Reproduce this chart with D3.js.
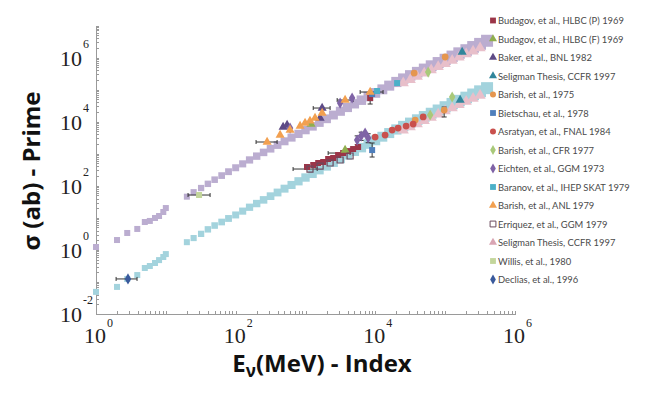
<!DOCTYPE html>
<meta charset="utf-8">
<style>
  body { margin: 0; background: #fff; }
  .axis path, .axis line { stroke: #9a9a9a; shape-rendering: crispEdges; }
  .ticklbl { font-family: "Liberation Serif", "Times New Roman", serif; fill: #222; }
  .title { font-family: "Open Sans", sans-serif; font-weight: bold; fill: #111; }
  .legend text { font-family: Lato, "Noto Sans", sans-serif; font-size: 9.4px; fill: #4a4a4a; }
  .ebar { stroke: #333; stroke-width: 1; fill: none; }
</style>
<body>
<svg id="chart"></svg>
<script src="https://cdn.jsdelivr.net/npm/d3@7"></script>
<script>
// band energies (MeV), E >= 20
var bandE = [20, 25, 32, 40, 50, 63, 79, 100, 126, 158, 200, 251, 316, 398, 501, 631, 794,
  1000, 1260, 1580, 2000, 2510, 3160, 3980, 5010, 6310, 7940, 1e4, 12600, 15800, 20000,
  25100, 31600, 39800, 50100, 63100, 79400, 1e5, 126000, 158000, 200000, 251000, 316000,
  398000];
var upperSigma = [45.7, 63.1, 85.1, 115, 155, 208, 275, 365, 483, 640, 841, 1100, 1430, 1870,
  2440, 3190, 4160, 5460, 7140, 9380, 12300, 16100, 21100, 27700, 36100, 46800, 60800, 78900,
  102000, 133000, 173000, 221000, 278000, 350000, 441000, 555000, 698000, 879000, 1100000,
  1380000, 1720000, 2150000, 2680000, 3340000];
var lowerSigma = [1.74, 2.34, 3.16, 4.37, 5.75, 7.41, 9.55, 12.3, 16.2, 21.4, 27.9, 36.3, 47.4,
  61.7, 81.3, 106, 138, 181, 237, 309, 407, 533, 700, 916, 1190, 1550, 2010, 2610, 3390, 4410,
  5710, 7310, 9200, 11600, 14600, 18400, 23100, 29100, 36600, 45600, 56900, 71100, 88700, 111000];

// low energy part of the bands
var lowE = [1, 2, 2.8, 3.9, 5, 5.9, 7, 8, 9.2, 10];
var upperLowSigma = [1.23, 2.03, 3.37, 4.5, 7.4, 8.0, 9.9, 11.4, 15.2, 20.2];
var lowerLowSigma = [0.049, 0.070, 0.124, 0.164, 0.272, 0.314, 0.39, 0.48, 0.60, 0.74];

// Seligman (pink) points along the bands
var pinkE = [25100, 31600, 39800, 50100, 63100, 79400, 1e5, 126000, 158000, 200000, 251000, 316000];
var pinkUpper = [162000, 204000, 257000, 324000, 407000, 513000, 646000, 813000, 1020000, 1290000, 1580000, 2000000];
var pinkLower = [5370, 6760, 8510, 10700, 13500, 17000, 21400, 26900, 33900, 42700, 52500, 66100];

// experiments: [E, sigma, Emin, Emax, sigmaMin, sigmaMax]
var budagovP = [[1050, 385], [1290, 444], [1520, 513], [1790, 551], [2110, 684], [2490, 735],
  [2930, 910], [3460, 1050, 2110, 4350], [4070, 1210], [4810, 1400], [5670, 1620],
  [8430, 54600, null, null, 35500, 78200]];
var budagovF = [[1200, 8430], [3690, 1300]];
var baker = [[478, 6810], [545, 7850], [1620, 13000], [1730, 26600, 1290, 2250]];
var seligmanTeal = [[175000, 1490000], [164000, 47300]];
var barish1975 = [[36000, 329000], [100000, 1040000], [37200, 11200], [96800, 23000, null, null, 14000, 28600]];
var bietschau = [[9000, 72800], [9000, 1300, null, null, 789, 2160]];
var asratyan = [[9930, 3320], [13800, 3830], [17400, 5480], [21200, 6320], [27600, 7310], [34800, 8430], [48400, 14000]];
var barishCFR = [[57100, 353000], [61000, 16100], [126000, 58700]];
var eichten = [[5490, 2670, null, null, 1900, 3600], [6270, 3560, null, null, 2600, 4700], [7140, 4430],
  [7890, 3090, null, null, 2200, 4200], [3130, 38100], [4650, 54600], [601, 6320]];
var baranov = [[10600, 90400], [20500, 160000]];
var barishANL = [[282, 2320, 196, 392], [433, 3830], [601, 5480], [837, 7310], [986, 9070], [1160, 10500],
  [1370, 13000], [1730, 18600], [3690, 47300, 2840, 4810], [8430, 84100, 6060, 12900]];
var erriquez = [[1160, 333, 664, 1470], [1620, 413], [2250, 513], [3130, 637], [4350, 848]];
var willis = [[29.9, 51.5, 20.8, 43]];
var declias = [[2.87, 0.124, 1.94, 3.87]];

var legendNames = ["Budagov, et al., HLBC (P) 1969", "Budagov, et al., HLBC (F) 1969",
  "Baker, et al., BNL 1982", "Seligman Thesis, CCFR 1997", "Barish, et al., 1975",
  "Bietschau, et al., 1978", "Asratyan, et al., FNAL 1984", "Barish, et al., CFR 1977",
  "Eichten, et al., GGM 1973", "Baranov, et al., IHEP SKAT 1979", "Barish, et al., ANL 1979",
  "Erriquez, et al., GGM 1979", "Seligman Thesis, CCFR 1997", "Willis, et al., 1980",
  "Declias, et al., 1996"];

var xExponents = [0, 2, 4, 6];
var yExponents = [-2, 0, 2, 4, 6];

var width = 654, height = 394;
var svg = d3.select("#chart").attr("width", width).attr("height", height);

var x = d3.scaleLog().domain([1, 1e6]).range([96, 515]);
var y = d3.scaleLog().domain([1e-2, 1e7]).range([314, 25.5]);
var bandSize = d3.scaleLog().domain([20, 4e5]).range([6, 12]);

// axes with inward log ticks
svg.append("g").attr("class", "axis")
  .attr("transform", "translate(0,314)")
  .call(d3.axisBottom(x).tickValues(x.ticks()).tickSize(-3).tickSizeOuter(0).tickFormat(""));
svg.append("g").attr("class", "axis")
  .attr("transform", "translate(96,0)")
  .call(d3.axisLeft(y).tickValues(y.ticks()).tickSize(-3).tickSizeOuter(0).tickFormat(""));

var xl = svg.append("g").selectAll("g").data(xExponents).join("g")
  .attr("transform", function (p) { return "translate(" + x(Math.pow(10, p)) + ",0)"; });
xl.append("text").attr("class", "ticklbl").attr("x", -1).attr("y", 343)
  .attr("text-anchor", "middle").style("font-size", "22px").text("10");
xl.append("text").attr("class", "ticklbl").attr("x", 11).attr("y", 327)
  .style("font-size", "12px").text(function (p) { return String(p); });

var yl = svg.append("g").selectAll("g").data(yExponents).join("g")
  .attr("transform", function (p) { return "translate(0," + y(Math.pow(10, p)) + ")"; });
yl.append("text").attr("class", "ticklbl").attr("x", 82).attr("y", 8)
  .attr("text-anchor", "end").style("font-size", "22px").text("10");
yl.append("text").attr("class", "ticklbl").attr("x", 83).attr("y", -10)
  .style("font-size", "12px").text(function (p) { return String(p); });

// titles
svg.append("text").attr("class", "title")
  .attr("transform", "translate(40,171) rotate(-90)")
  .attr("text-anchor", "middle").style("font-size", "24px").text("σ (ab) - Prime");
var xt = svg.append("text").attr("class", "title").attr("x", 322).attr("y", 372)
  .attr("text-anchor", "middle").style("font-size", "24px");
xt.append("tspan").text("E");
xt.append("tspan").attr("dy", 5).style("font-size", "17px").text("ν");
xt.append("tspan").attr("dy", -5).text("(MeV) - Index");

var plot = svg.append("g");

function squares(es, ss, color, sizeFn) {
  plot.append("g").selectAll("rect")
    .data(ss.map(function (s, i) { return [es[i], s]; }))
    .join("rect")
    .attr("x", function (d) { return x(d[0]) - sizeFn(d[0]) / 2; })
    .attr("y", function (d) { return y(d[1]) - sizeFn(d[0]) / 2; })
    .attr("width", function (d) { return sizeFn(d[0]); })
    .attr("height", function (d) { return sizeFn(d[0]); })
    .attr("fill", color);
}

squares(lowE, upperLowSigma, "#bbadd0", function () { return 6; });
squares(lowE, lowerLowSigma, "#a3d3dd", function () { return 6; });
squares(bandE, upperSigma, "#bbadd0", bandSize);
squares(bandE, lowerSigma, "#a3d3dd", bandSize);

var tri = d3.symbol().type(d3.symbolTriangle).size(55);
function pinkBand(vals) {
  plot.append("g").selectAll("path")
    .data(vals.map(function (s, i) { return [pinkE[i], s]; }))
    .join("path")
    .attr("d", tri)
    .attr("transform", function (d) { return "translate(" + x(d[0]) + "," + y(d[1]) + ")"; })
    .attr("fill", "#e8bfca");
}
pinkBand(pinkUpper);
pinkBand(pinkLower);

// experimental series
var series = [
  { data: budagovP, sym: d3.symbolSquare, color: "#9b3548" },
  { data: budagovF, sym: d3.symbolTriangle, color: "#8fae4e" },
  { data: baker, sym: d3.symbolTriangle, color: "#5d4a86" },
  { data: seligmanTeal, sym: d3.symbolTriangle, color: "#31869b" },
  { data: barish1975, sym: d3.symbolCircle, color: "#e5964f" },
  { data: bietschau, sym: d3.symbolSquare, color: "#4f7fbc" },
  { data: asratyan, sym: d3.symbolCircle, color: "#c9504d" },
  { data: barishCFR, sym: d3.symbolDiamond, color: "#a9c97a" },
  { data: eichten, sym: d3.symbolDiamond, color: "#7f63a6" },
  { data: baranov, sym: d3.symbolSquare, color: "#4bb0c8" },
  { data: barishANL, sym: d3.symbolTriangle, color: "#f2a050" },
  { data: erriquez, sym: d3.symbolSquare, color: "none", stroke: "#6b4a5e" },
  { data: [], sym: d3.symbolTriangle, color: "#d9a5b3" },
  { data: willis, sym: d3.symbolSquare, color: "#c3d69b" },
  { data: declias, sym: d3.symbolDiamond, color: "#3a5a9c" }
];

var bars = plot.append("g");
series.forEach(function (s) {
  s.data.forEach(function (d) {
    var px = x(d[0]), py = y(d[1]);
    if (d[2] != null) {
      bars.append("line").attr("class", "ebar").attr("x1", x(d[2])).attr("x2", x(d[3])).attr("y1", py).attr("y2", py);
      bars.append("line").attr("class", "ebar").attr("x1", x(d[2])).attr("x2", x(d[2])).attr("y1", py - 2).attr("y2", py + 2);
      bars.append("line").attr("class", "ebar").attr("x1", x(d[3])).attr("x2", x(d[3])).attr("y1", py - 2).attr("y2", py + 2);
    }
    if (d[4] != null) {
      bars.append("line").attr("class", "ebar").attr("x1", px).attr("x2", px).attr("y1", y(d[4])).attr("y2", y(d[5]));
      bars.append("line").attr("class", "ebar").attr("x1", px - 2.5).attr("x2", px + 2.5).attr("y1", y(d[4])).attr("y2", y(d[4]));
      bars.append("line").attr("class", "ebar").attr("x1", px - 2.5).attr("x2", px + 2.5).attr("y1", y(d[5])).attr("y2", y(d[5]));
    }
  });
});

series.forEach(function (s) {
  plot.append("g").selectAll("path")
    .data(s.data)
    .join("path")
    .attr("d", d3.symbol().type(s.sym).size(36))
    .attr("transform", function (d) { return "translate(" + x(d[0]) + "," + y(d[1]) + ")"; })
    .attr("fill", s.color)
    .attr("stroke", s.stroke || "none")
    .attr("stroke-width", 1.2);
});

// legend
var legend = svg.append("g").attr("class", "legend");
legendNames.forEach(function (name, i) {
  var ly = 20.5 + i * 18.5;
  var s = series[i];
  legend.append("path")
    .attr("d", d3.symbol().type(s.sym).size(s.sym === d3.symbolSquare ? 34 : 28))
    .attr("transform", "translate(493," + ly + ")")
    .attr("fill", s.color)
    .attr("stroke", s.stroke || "none");
  legend.append("text").attr("x", 498).attr("y", ly + 3.5).text(name);
});
</script>
</body>
